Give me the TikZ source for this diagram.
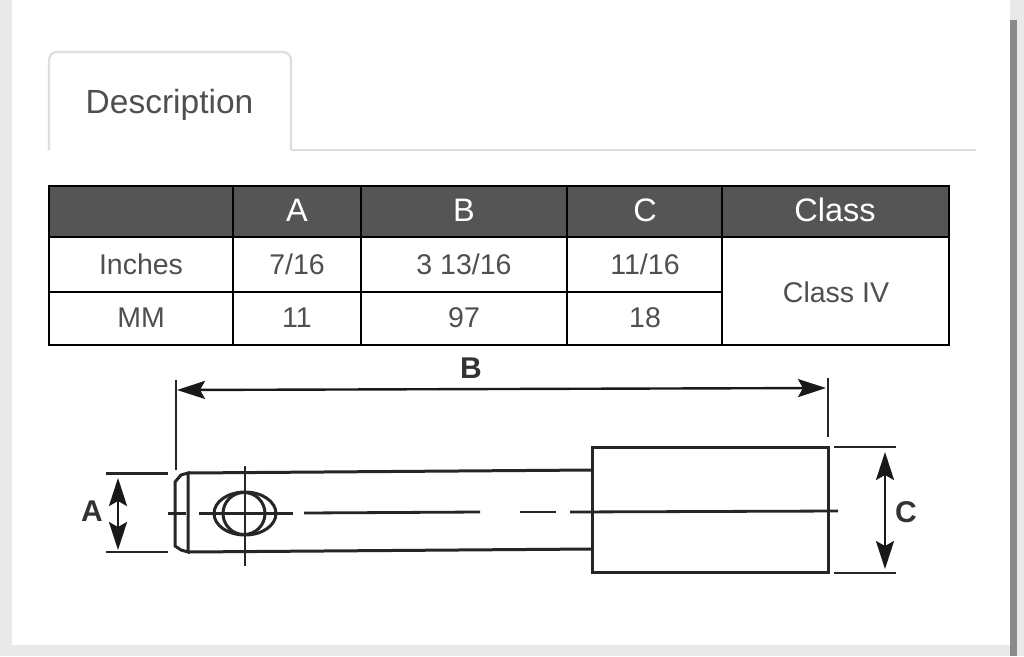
\documentclass[tikz,border=0pt]{standalone}
\usepackage{fontspec}
\setmainfont{Liberation Sans}
\usetikzlibrary{positioning,arrows.meta}

\definecolor{headgray}{HTML}{555555}
\definecolor{textgray}{HTML}{4F4F4F}
\definecolor{tabgray}{HTML}{DEDEDE}
\definecolor{pagegray}{HTML}{E9E9E9}
\definecolor{bargray}{HTML}{8A8A8A}

\tikzset{
  headcell/.style={text=white, font=\fontsize{32.5}{32.5}\selectfont, anchor=center},
  bodycell/.style={text=textgray, font=\fontsize{28.5}{28.5}\selectfont, anchor=center},
  partline/.style={line width=3, color=black!85},
  thinline/.style={line width=2.8, color=black!85},
  dimarrow/.style={line width=2.4, color=black!90, {Stealth[length=28,width=18,inset=5]}-{Stealth[length=28,width=18,inset=5]}},
  dimletter/.style={font=\fontsize{30}{30}\selectfont\bfseries, text=black!80}
}

\begin{document}
\begin{tikzpicture}[x=1pt,y=-1pt]
\useasboundingbox (0,0) rectangle (1024,656);
% page
\fill[pagegray](0,0) rectangle (1024,656);
\fill[white](12,0) rectangle (1010,645);
\fill[bargray](1010,20) rectangle (1017,656);
% tab
\draw[line width=2.2, color=tabgray, rounded corners=8](49,150) -- (49,52) -- (291,52) -- (291,150);
\draw[line width=2.2, color=tabgray](291,150) -- (976,150);
\node[text=textgray, font=\fontsize{33.5}{33.5}\selectfont] (tabtitle) at (169.5,105) {Description};
% table
\fill[headgray](49,186) rectangle (949,237);
\draw[line width=2.6](49,186) rectangle (949,345);
\draw[line width=2.6](49,237) -- (949,237);
\draw[line width=2.6](49,292) -- (722,292);
\draw[line width=2.6](233,186) -- (233,345);
\draw[line width=2.6](361,186) -- (361,345);
\draw[line width=2.6](567,186) -- (567,345);
\draw[line width=2.6](722,186) -- (722,345);
\node[headcell] (headA) at (297,210) {A};
\node[headcell] (headB) at (464,210) {B};
\node[headcell] (headC) at (645,210) {C};
\node[headcell] (headclass) at (835,210) {Class};
\node[bodycell] (inches) at (141,264) {Inches};
\node[bodycell] (inchA) at (297,264) {7/16};
\node[bodycell] (inchB) at (464,264) {3 13/16};
\node[bodycell] (inchC) at (645,264) {11/16};
\node[bodycell] (mm) at (141,318) {MM};
\node[bodycell] (mmA) at (297,318) {11};
\node[bodycell] (mmB) at (464,318) {97};
\node[bodycell] (mmC) at (645,318) {18};
\node[bodycell] (classfour) at (836,292) {Class IV};
% pin body
\draw[partline](188,473) -- (592,470);
\draw[partline](188,552) -- (592,549);
\draw[partline](188,473) -- (181,475) -- (175,482) -- (175,546) -- (181,550) -- (188,552) -- cycle;
\draw[partline](592,447) rectangle (828,572.5);
% hole
\draw[partline](245,513.5) ellipse[x radius=31,y radius=21.5];
\draw[partline](244,513.5) circle[radius=21];
\draw[thinline](245,466) -- (245,566);
\draw[thinline](199,513.5) -- (293,513.5);
% centre line
\draw[thinline](168,513.5) -- (186,513.5);
\draw[thinline](304,513) -- (480,512);
\draw[thinline](520,512) -- (556,512);
\draw[thinline](570,512) -- (838,511);
% extension lines
\coordinate (Bleft) at (177,390);
\coordinate (Bright) at (826,388);
\coordinate (Atop) at (118,478);
\coordinate (Abot) at (118,550);
\coordinate (Ctop) at (885,452);
\coordinate (Cbot) at (885,569);
\draw[thinline](176,380) -- (176,470);
\draw[thinline](828,378) -- (828,437);
\draw[thinline](106,473.5) -- (168,473.5);
\draw[thinline](106,552) -- (168,552);
\draw[thinline](834,447) -- (896,447);
\draw[thinline](834,573) -- (896,573);
% dimensions
\draw[dimarrow](Bleft) -- (Bright);
\draw[dimarrow](Atop) -- (Abot);
\draw[dimarrow](Ctop) -- (Cbot);
\node[dimletter] (letterB) at (471,368) {B};
\node[dimletter] (letterA) at (92,511) {A};
\node[dimletter] (letterC) at (906,512) {C};
\end{tikzpicture}
\end{document}
